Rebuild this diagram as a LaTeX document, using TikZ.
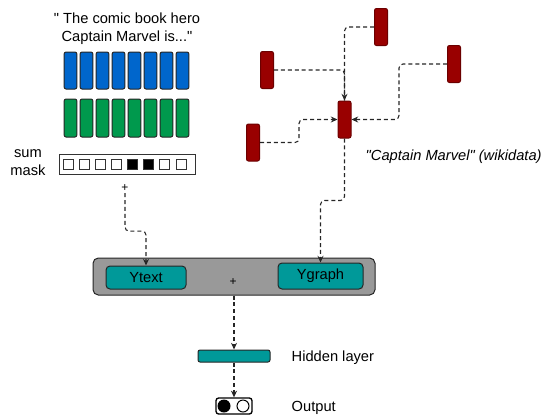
\documentclass[tikz,border=0pt]{standalone}
\usepackage{fontspec}
\setmainfont{Liberation Sans}[Ligatures=TeXOff]
\usepackage{xcolor}
\usetikzlibrary{arrows.meta}
\definecolor{tokblue}{HTML}{0066CC}
\definecolor{tokgreen}{HTML}{00994D}
\definecolor{entred}{HTML}{990000}
\definecolor{layteal}{HTML}{009999}
\definecolor{boxgray}{HTML}{999999}

\begin{document}
\begin{tikzpicture}[x=0.75pt,y=-0.75pt,font=\fontsize{11}{13.5}\selectfont,
	bar node/.style={rectangle, rounded corners=1.5pt, draw=black!85, line width=0.75pt, inner sep=0pt, minimum width=9.6pt, minimum height=27.75pt},
	blue node/.style={bar node, fill=tokblue},
	green node/.style={bar node, fill=tokgreen, minimum height=28.5pt},
	red node/.style={bar node, fill=entred, draw=entred!70!black, minimum width=9.75pt},
	mask node/.style={rectangle, draw=black!80, line width=0.75pt, fill=white, inner sep=0pt, minimum size=7.5pt},
	y node/.style={rectangle, rounded corners=3pt, draw=black!85, line width=0.75pt, fill=layteal, inner sep=0pt},
	link/.style={draw=black!85, line width=0.8pt, dash pattern=on 3pt off 2.2pt, rounded corners=3pt},
	tip/.style={-{Stealth[length=5pt,width=4.5pt]}}]
			\useasboundingbox (0,0) rectangle (548,419);
			
			% Text side
			\node [align=center] (title) at (127,29) {" The comic book hero\\Captain Marvel is..."};
			
			\node [blue node] (b1) at (70.5,70.5) {};
			\node [blue node] (b2) at (86.5,70.5) {};
			\node [blue node] (b3) at (102.5,70.5) {};
			\node [blue node] (b4) at (118.5,70.5) {};
			\node [blue node] (b5) at (134.5,70.5) {};
			\node [blue node] (b6) at (150.5,70.5) {};
			\node [blue node] (b7) at (166.5,70.5) {};
			\node [blue node] (b8) at (182.5,70.5) {};
			
			\node [green node] (g1) at (70.5,118) {};
			\node [green node] (g2) at (86.5,118) {};
			\node [green node] (g3) at (102.5,118) {};
			\node [green node] (g4) at (118.5,118) {};
			\node [green node] (g5) at (134.5,118) {};
			\node [green node] (g6) at (150.5,118) {};
			\node [green node] (g7) at (166.5,118) {};
			\node [green node] (g8) at (182.5,118) {};
			
			\node [align=center] (summask) at (28,163) {sum\\mask};
			\node [rectangle, draw=black!80, line width=0.75pt, minimum width=102pt, minimum height=15pt, inner sep=0pt] (mask) at (127,164) {};
			\node [mask node] (m1) at (68,164) {};
			\node [mask node] (m2) at (84,164) {};
			\node [mask node] (m3) at (100.5,164) {};
			\node [mask node] (m4) at (116.5,164) {};
			\node [mask node, fill=black] (m5) at (132.5,164) {};
			\node [mask node, fill=black] (m6) at (148.5,164) {};
			\node [mask node] (m7) at (164.5,164) {};
			\node [mask node] (m8) at (181,164) {};
			\node [font=\fontsize{9}{10}\selectfont, inner sep=1pt] (plus1) at (125,188) {+};
			
			% Graph side
			\node [red node] (t1) at (381,27) {};
			\node [red node] (t2) at (267,70) {};
			\node [red node] (t3) at (454,64) {};
			\node [red node] (c) at (344.5,119.5) {};
			\node [red node] (t4) at (253,142.5) {};
			\node [anchor=west, font=\fontsize{11}{13.5}\selectfont\itshape] (wiki) at (361,157) {"Captain Marvel" (wikidata)};
			
			% Combination
			\node [rectangle, rounded corners=4pt, draw=black!85, line width=0.75pt, fill=boxgray, minimum width=211.5pt, minimum height=27.75pt] (sum) at (234,276.5) {};
			\node [y node, minimum width=60pt, minimum height=17.25pt] (ytext) at (146,277.5) {Ytext};
			\node [y node, minimum width=63.75pt, minimum height=19.5pt] (ygraph) at (320.5,276) {Ygraph};
			\node [font=\fontsize{9}{10}\selectfont, inner sep=1pt] (plus2) at (233,282) {+};
			
			\node [y node, rounded corners=1.5pt, minimum width=54pt, minimum height=9pt] (hidden) at (234,356) {};
			\node [anchor=west] (hiddenlabel) at (287,358) {Hidden layer};
			
			\node [rectangle, rounded corners=2pt, draw=black, line width=1pt, fill=white, minimum width=27pt, minimum height=12pt, inner sep=0pt] (out) at (234,406) {};
			\node [circle, fill=black, inner sep=0pt, minimum size=9.75pt] (o1) at (224,406) {};
			\node [circle, draw=black, line width=0.75pt, fill=white, inner sep=0pt, minimum size=9pt] (o2) at (243,406) {};
			\node [anchor=west] (outlabel) at (287,408) {Output};
			
			% Links
			\draw [link, tip] (t1.west) -| (c.north);
			\draw [link] (t2.east) -| (c.north);
			\draw [link, tip] (t3.west) -- ++(-48,0) |- (c.east);
			\draw [link, tip] (t4.east) -- ++(39,0) |- (c.west);
			\draw [link, tip] (c.south) -- ++(0,62) -| (ygraph.north);
			\draw [link, tip] (plus1.south) -- ++(0,38) -| (ytext.north);
			\draw [link, tip] (sum.south) -- (hidden.north);
			\draw [link, tip] (hidden.south) -- (out.north);
			
		\end{tikzpicture}
\end{document}
